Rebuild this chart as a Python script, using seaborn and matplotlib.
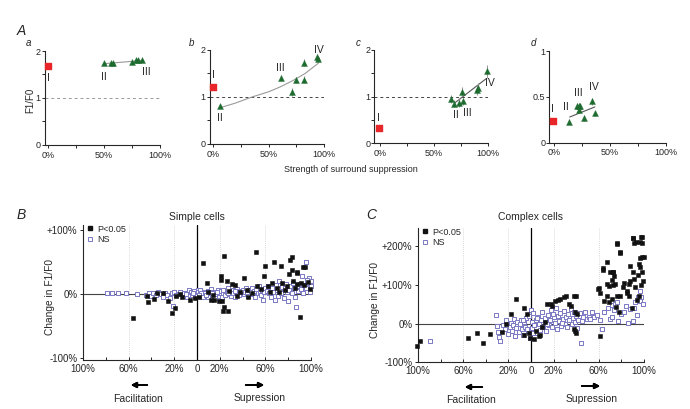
import numpy as np
import pandas as pd
import seaborn as sns
import matplotlib.pyplot as plt
from matplotlib.lines import Line2D

# ---------------- data ----------------
# Panel A: class I cell (red) and green triangles per example cell
a_I = (0, 1.68)
a_x = [50, 56.5, 58, 74.5, 78.6, 80, 84]
a_y = [1.74, 1.74, 1.74, 1.77, 1.80, 1.80, 1.81]
a_err = [0.03, 0.03, 0.03, 0.03, 0.03, 0.03, 0.03]
a_fit_x = [50, 85]
a_fit_y = [1.73, 1.80]

b_I = (0, 1.22)
b_x = [6, 61.2, 71.4, 74.4, 82.2, 82.2, 93.4, 94.9]
b_y = [0.81, 1.40, 1.11, 1.36, 1.73, 1.37, 1.86, 1.80]
b_err = [0.05, 0.06, 0.08, 0.07, 0.07, 0.08, 0.05, 0.05]
b_fit_x = [6, 20, 35, 50, 61, 72, 83, 95]
b_fit_y = [0.77, 0.87, 1.0, 1.11, 1.22, 1.35, 1.5, 1.72]

c_I = (-1, 0.32)
c_x = [66, 69, 73.3, 75.8, 77.2, 89.6, 90.5, 98.8]
c_y = [0.95, 0.85, 0.86, 1.11, 0.90, 1.14, 1.19, 1.54]
c_err = [0.08, 0.08, 0.08, 0.10, 0.07, 0.10, 0.10, 0.13]
c_fit_x = [69.5, 98]
c_fit_y = [0.87, 1.38]

d_I = (-0.6, 0.24)
d_x = [13.7, 20.3, 22.7, 23.3, 22.7, 26.9, 33.7, 36.7]
d_y = [0.23, 0.40, 0.40, 0.40, 0.36, 0.27, 0.45, 0.32]
d_err = [0.03, 0.03, 0.03, 0.03, 0.03, 0.03, 0.04, 0.03]
d_fit_x = [14.2, 36.7]
d_fit_y = [0.28, 0.39]

# Panel B: simple cells (x = facilitation(-) / suppression(+), y = change in F1/F0, %)
B_sig_x = [-56, -44, -43, -38, -35, -30, -25, -22, -19, -18, -15, -13, -6, -2,
           5, 24, 51.5, 8.5, 20.8, 20.8, 26.6, 31, 33, 41.5, 59.6, 58.8, 67.8, 73.7,
           81, 83, 82, 83, 87.4, 87.4, 93.3, 95, 90.4, 12, 15, 19, 21.6, 24, 23, 27.5,
           10, 14, 28, 35, 44, 48, 53, 56, 62, 64, 66, 70, 72, 75, 77, 79, 84, 86,
           88, 91, 94, 97, 99, 45, 38, 2]
B_sig_y = [-37, -3, -12, -8, 2, 2, -11, -29, -22, -3, 0, -5, -9, -6,
           49, 60, 66, 18, 28, 22, 21, 16, 14, 25, 44, 29, 50, 44,
           31, 38, 54, 58, 35, 33, 42, 42, -36, -9, -10, -11, -11, -20, -27, -26,
           3, -2, 5, -3, 6, 1, 12, 8, 13, 3, 17, 10, 4, 17, 6, 12, 20, 10,
           16, 18, 14, 19, 8, -4, 4, -5]
B_ns_x = [-79, -75, -69, -62, -53,
          -44.5, -42, -40, -38.5, -36, -34, -32, -30, -28.5, -26, -24, -22, -21, -20, -18,
          -16, -14.5, -12, -11, -9, -8, -7, -6, -5, -4, -3, -2, -1, 0, 0.5,
          1, 2, 3, 4, 5.5, 6, 7, 8, 9.5, 10, 11, 12, 13, 14, 15.5, 16, 17, 18, 19, 20,
          21, 22, 23, 24.5, 25, 26, 27, 28, 29, 30, 31.5, 32, 33, 34, 35, 36, 37, 38, 39, 40,
          41, 42.5, 43, 44, 45, 46, 47, 48, 49, 50, 51, 52, 53.5, 54, 55, 56, 57, 58, 59, 60,
          61, 62, 63, 64.5, 65, 66, 67, 68, 69, 70, 71, 72, 73, 74, 75, 76, 77, 78, 79, 80,
          81, 82, 83, 84, 85, 86, 87, 88, 89, 90, 91, 92, 93, 94, 95.6, 96, 97, 98, 99, 100,
          100, 96.5, 3.5, 7.5, 11.5, 17.5, 22.5, 27.5, 33.5, -3.5, -9.5, 1.5, 13.5]
B_ns_y = [1, 1, 2, 1, 0,
          -1, 2, -3, 1, -2, 3, 0, -4, 2, -1, -6, 1, -19, 3, -2,
          0, 4, -3, 2, -5, 1, 6, -2, 3, -1, 5, -4, 2, -2, 7,
          3, -3, 6, 0, -5, 4, 1, -2, 5, -4, 2, 8, -1, 3, -6, 4, 0, 6, -3, 2,
          5, -4, 1, 7, -2, 3, 10, 0, 4, -3, 6, 2, -5, 4, 8, 1, -2, 5, 3, 7,
          0, 4, 9, 2, -3, 6, 3, 10, 0, 5, -4, 8, 2, 12, 4, -2, 7, -10, 3, 9,
          5, 12, 1, 7, -5, 10, 3, -10, 14, 6, -3, 21, 8, 2, 11, -6, 9, 15, 4, -11,
          7, 13, 2, 18, 9, -4, -20, 12, 5, 16, 8, 29, 1, 14, 50, 10, 18, 25, 4, 20,
          12, 22, 2, -1, 4, 3, 6, 2, 5, 1, 0, -1, 1]

# Panel C: complex cells
C_sig_x = [-100.6, -98, -55.5, -48, -42.8, -36.3, -26, -21.8, -18, -13, -6.5, -6, -3.2, -2,
           -0.6, 2.4, 6.8, 4, 10, 12, 8,
           14.2, 17.7, 18.6, 21.5, 23.6, 26, 29, 31.3, 38.4, 40, 33.3, 35, 39.2, 40.7,
           37.8, 39, 40,
           61.3, 60, 61, 63.7, 64.3, 67.3, 68.7, 70.2, 72.5, 73.7, 74.6, 76, 76, 77.6,
           79, 79, 82, 85, 86.4, 86.4, 88, 90.3, 91, 90.3, 95.3, 96.8, 98.3, 97.3, 96.8,
           98.5, 100, 92, 94, 97, 99, 89, 59.6, 64, 67, 72.9, 75.8, 78.8, 90.5, 98, 93,
           98, 96.5, 95, 71.4, 73, 81.7, 84.7, 67.5, 69, 72, 74.9, 95.6, 88, 91]
C_sig_y = [-58, -45, -37, -23.5, -49.5, -28, -22, -1, 24, 63, 41, -30, 24, -24,
           -37, -41, -33, -20, -8, 5, -30,
           50, 50, 46, 59, 62, 64, 68, 70.5, 70.5, 70.5, 50, 46, 29, 24,
           -15, -19, -24,
           -33, 91, 80, 140, 59, 102.6, 96.5, 133.5, 135, 123, 102.6, 207, 72, 29,
           183, 72, 106, 85, 102, 72, 111, 221, 209, 133, 155, 146, 135, 224, 211,
           172, 172, 95, 60, 100, 110, 40, 90, 143, 160, 134, 208, 186, 221, 225, 211,
           208, 170, 125, 113, 99, 95, 80, 72, 55, 63, 42, 72, 150, 115]
C_ns_x = [-89, -31, -30, -29, -28, -27, -25, -23, -22, -20, -19, -18, -17, -16, -15, -14,
          -13, -12, -11, -10, -9, -8, -7, -6, -5, -4, -3, -2, -1, 0, 0.5, 1, 2, 3, 4,
          5, 6, 7, 8, 9, 10, 11, 12, 13, 14, 15, 16, 17, 18, 19, 20, 21, 22, 23, 24,
          25, 26, 27, 28, 29, 30, 31, 32, 33, 34, 35, 36, 37, 38, 39, 40, 41, 42, 43,
          44, 45, 46, 48, 50, 51, 52.5, 54, 55.5, 58, 61, 62.8, 65, 68, 70.2, 71.7,
          71.7, 73.7, 74.6, 76, 77, 80, 82, 84, 86, 88, 90.3, 90.8, 92, 93.8, 95, 96.8,
          97.3, 96.8, 99, -7.5, -3.5, 1.5, 5.5, 9.5, 14.5, 19.5, 27.5]
C_ns_y = [-45, 21, -6, -23, -36, -45, -3, -15, 8, -28, -10, 2, -20, -5, 12, -33,
          -12, 4, -22, -2, 9, -15, -30, 3, -8, 15, -20, 20, -38, 35, 5, -12, 26, -5, 10,
          -25, 18, 0, -16, 8, 30, -8, 14, -20, 4, 22, -4, 10, 35, -10, 16, 2, 40, -14, 20,
          6, 28, -6, 12, 32, 0, 18, -9, 24, 8, 38, -2, 15, 30, 4, 20, -12, 10, 27,
          -51, 6, 18, 30, 12, 16, 12, 29, 16, 22, 8, -14, 30, 40, 12, 48,
          16, 36, 50, 55, 7, 25, 29, 45, 2, 38, 6.6, 39, 55, 21.6, 70, 59,
          68, 85, 50, 10, -14, -25, 14, -8, 0, 24, 2]

# ---------------- style ----------------
sns.set_style("ticks")
plt.rcParams["font.family"] = ["Liberation Sans", "DejaVu Sans"]
plt.rcParams["axes.linewidth"] = 0.8

RED = "#e8262a"
GREEN = "#1d6b2f"
LAV = "#7a78c2"

fig = plt.figure(figsize=(6.9, 4.09), dpi=100)


def fpos(px, py):
    return px / 690, 1 - py / 409


def panel_a_axes(rect, xlim, ylim):
    ax = fig.add_axes(rect)
    ax.set_xlim(*xlim)
    ax.set_ylim(*ylim)
    sns.despine(ax=ax)
    ax.set_xticks([0, 50, 100])
    ax.set_xticklabels(["0%", "50%", "100%"])
    ax.set_xticks([25, 75], minor=True)
    ax.tick_params(labelsize=6.5, length=2.5, width=0.7, pad=1.5)
    ax.tick_params(axis="y", length=2, pad=1)
    ax.tick_params(which="minor", length=2.5, width=0.7)
    return ax


def draw_cells(ax, I, xs, ys, errs, fx, fy, fit_color, dashed=True, dash_color="#777777"):
    if dashed:
        ax.axhline(1, ls=(0, (3, 3)), color=dash_color, lw=0.7, zorder=1)
    ax.plot(fx, fy, color=fit_color, lw=0.8, zorder=2)
    ax.errorbar(xs, ys, yerr=errs, fmt="none", ecolor="#999999", elinewidth=0.8,
                capsize=0, zorder=3)
    sns.scatterplot(x=xs, y=ys, ax=ax, marker="^", color=GREEN, s=18,
                    edgecolor=GREEN, linewidth=0.3, zorder=4, clip_on=False)
    ax.scatter([I[0]], [I[1]], marker="s", color=RED, s=14, zorder=4, clip_on=False)


# panel a
ax_a = panel_a_axes([0.0652, 0.6455, 0.1667, 0.2298], (-3, 100), (0, 2))
ax_a.set_yticks([0, 1, 2])
ax_a.set_yticks([0.5, 1.5], minor=True)
draw_cells(ax_a, a_I, a_x, a_y, a_err, a_fit_x, a_fit_y, "#9a9a9a", dash_color="#999999")
for t, x, y in [("I", 0, 1.42), ("II", 50, 1.45), ("III", 88, 1.55)]:
    ax_a.text(x, y, t, fontsize=7.5, ha="center", va="center")

# panel b
ax_b = panel_a_axes([0.3043, 0.648, 0.1652, 0.2298], (-3, 100), (0, 2))
ax_b.set_yticks([0, 1, 2])
ax_b.set_yticks([0.5, 1.5], minor=True)
draw_cells(ax_b, b_I, b_x, b_y, b_err, b_fit_x, b_fit_y, "#9a9a9a", dash_color="#444444")
for t, x, y in [("I", 0, 1.47), ("II", 6, 0.55), ("III", 61, 1.62), ("IV", 95, 2.0)]:
    ax_b.text(x, y, t, fontsize=7.5, ha="center", va="center")

# panel c
ax_c = panel_a_axes([0.5425, 0.6496, 0.1648, 0.2282], (-5, 100), (0, 2))
ax_c.set_yticks([0, 1, 2])
ax_c.set_yticks([0.5, 1.5], minor=True)
draw_cells(ax_c, c_I, c_x, c_y, c_err, c_fit_x, c_fit_y, "#555555", dash_color="#444444")
for t, x, y in [("I", -1, 0.55), ("II", 70, 0.6), ("III", 81, 0.66), ("IV", 102, 1.3)]:
    ax_c.text(x, y, t, fontsize=7.5, ha="center", va="center")

# panel d
ax_d = panel_a_axes([0.7961, 0.6511, 0.1687, 0.2242], (-4, 100), (0, 1))
ax_d.set_yticks([0, 0.5, 1])
ax_d.set_yticklabels(["0", "0.5", "1"])
draw_cells(ax_d, d_I, d_x, d_y, d_err, d_fit_x, d_fit_y, "#555555", dashed=False)
for t, x, y in [("I", -1, 0.37), ("II", 11, 0.39), ("III", 22, 0.54), ("IV", 36, 0.61)]:
    ax_d.text(x, y, t, fontsize=7.5, ha="center", va="center")

fig.text(*fpos(30, 100), "F1/F0", rotation=90, fontsize=7, ha="center", va="center")
fig.text(*fpos(351, 170), "Strength of surround suppression", fontsize=6.5,
         ha="center", va="center")
fig.text(*fpos(21, 31), "A", fontsize=10, style="italic", ha="center", va="center")
for t, px in [("a", 28), ("b", 192), ("c", 358), ("d", 533)]:
    fig.text(*fpos(px, 43), t, fontsize=7, style="italic", ha="center", va="center")


# ---------------- panels B and C ----------------
def scatter_panel(rect, sig_x, sig_y, ns_x, ns_y, ylim, yticks, ylabels):
    ax = fig.add_axes(rect)
    ax.set_xlim(-100, 100)
    ax.set_ylim(*ylim)
    sns.despine(ax=ax)
    for g in [-60, -20, 20, 60]:
        ax.axvline(g, color="#cccccc", lw=0.6, ls=(0, (1, 1.5)), zorder=0)
    ax.axhline(0, color="#444444", lw=0.8, zorder=1)
    ax.axvline(0, color="black", lw=0.9, zorder=1)
    ns = pd.DataFrame({"x": ns_x, "y": ns_y})
    sig = pd.DataFrame({"x": sig_x, "y": sig_y})
    sns.scatterplot(data=ns, x="x", y="y", ax=ax, marker="s", s=8, facecolor="white",
                    edgecolor=LAV, linewidth=0.7, zorder=2, clip_on=False)
    sns.scatterplot(data=sig, x="x", y="y", ax=ax, marker="s", s=8, color="#111111",
                    edgecolor="#111111", linewidth=0.4, zorder=3, clip_on=False)
    ax.set_xlabel("")
    ax.set_ylabel("")
    ax.set_xticks([-100, -60, -20, 0, 20, 60, 100])
    ax.set_xticklabels(["100%", "60%", "20%", "0", "20%", "60%", "100%"])
    ax.set_xticks([-80, -40, 40, 80], minor=True)
    ax.set_yticks(yticks)
    ax.set_yticklabels(ylabels)
    ax.tick_params(axis="x", which="both", direction="in", length=2.5, width=0.7,
                   labelsize=7, pad=3)
    ax.tick_params(axis="y", length=2.5, width=0.7, labelsize=7, pad=1.5)
    handles = [Line2D([], [], ls="none", marker="s", ms=3, color="#111111"),
               Line2D([], [], ls="none", marker="s", ms=3, mfc="white", mec=LAV, mew=0.7)]
    ax.legend(handles, ["P<0.05", "NS"], loc="upper left", bbox_to_anchor=(0.0, 1.03),
              frameon=False, fontsize=6.5, handlelength=0.8, handletextpad=0.4,
              labelspacing=0.15, borderaxespad=0.2, borderpad=0.2)
    return ax


ax_B = scatter_panel([0.1203, 0.1198, 0.3304, 0.3301], B_sig_x, B_sig_y, B_ns_x, B_ns_y,
                     (-103, 108), [-100, 0, 100], ["-100%", "0%", "+100%"])
ax_C = scatter_panel([0.6058, 0.1149, 0.3275, 0.3276], C_sig_x, C_sig_y, C_ns_x, C_ns_y,
                     (-100, 248), [-100, 0, 100, 200],
                     ["-100%", "0%", "+100%", "+200%"])

fig.text(*fpos(197, 217), "Simple cells", fontsize=7.5, ha="center", va="center")
fig.text(*fpos(531, 217), "Complex cells", fontsize=7.5, ha="center", va="center")
fig.text(*fpos(50, 297), "Change in F1/F0", rotation=90, fontsize=7.3, ha="center", va="center")
fig.text(*fpos(375, 300), "Change in F1/F0", rotation=90, fontsize=7.3, ha="center", va="center")
fig.text(*fpos(21, 215), "B", fontsize=10, style="italic", ha="center", va="center")
fig.text(*fpos(371, 215), "C", fontsize=10, style="italic", ha="center", va="center")

arrows = [((150, 385), (128, 385), "Facilitation", (138, 399)),
          ((243, 385), (267, 385), "Supression", (260, 398)),
          ((485, 387), (462, 387), "Facilitation", (471, 400)),
          ((579, 386), (603, 386), "Supression", (592, 399))]
for start, end, label, tpos in arrows:
    fig.add_artist(plt.annotate("", xy=fpos(*end), xytext=fpos(*start),
                                xycoords="figure fraction", textcoords="figure fraction",
                                arrowprops=dict(arrowstyle="-|>", color="black", lw=1.3,
                                                mutation_scale=8)))
    fig.text(*fpos(*tpos), label, fontsize=7.5, ha="center", va="center")

fig.savefig("out.png", dpi=100, facecolor="white")
